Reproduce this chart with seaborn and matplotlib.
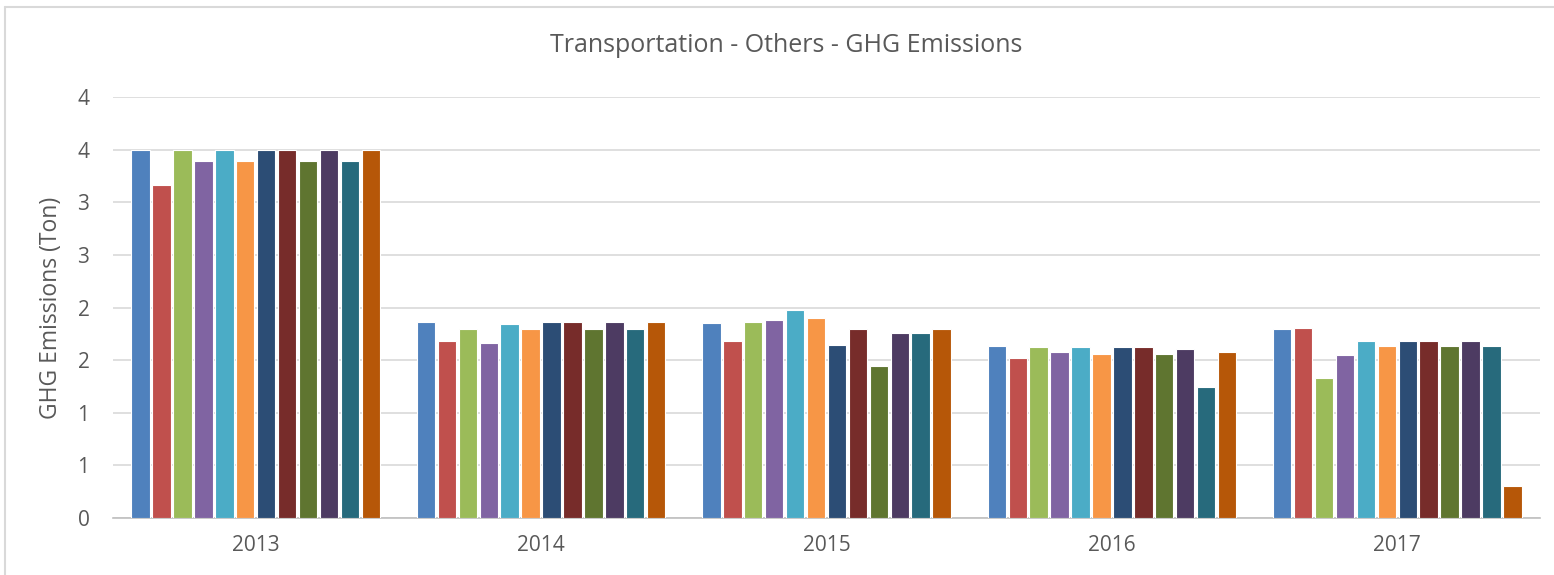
import matplotlib
matplotlib.use("Agg")
import matplotlib.pyplot as plt
from matplotlib.lines import Line2D
import seaborn as sns
import pandas as pd

# Emissions per year for each of the twelve vehicle series (tons)
years = ["2013", "2014", "2015", "2016", "2017"]
series_names = [f"Series {i}" for i in range(1, 13)]
values_2013 = [3.50, 3.16, 3.50, 3.39, 3.50, 3.39, 3.50, 3.50, 3.39, 3.50, 3.39, 3.50]
values_2014 = [1.865, 1.685, 1.80, 1.66, 1.84, 1.80, 1.865, 1.865, 1.80, 1.865, 1.80, 1.865]
values_2015 = [1.853, 1.685, 1.865, 1.878, 1.973, 1.90, 1.647, 1.80, 1.447, 1.755, 1.755, 1.80]
values_2016 = [1.634, 1.523, 1.62, 1.574, 1.62, 1.561, 1.62, 1.62, 1.561, 1.609, 1.245, 1.574]
values_2017 = [1.793, 1.805, 1.327, 1.549, 1.685, 1.634, 1.685, 1.685, 1.634, 1.685, 1.634, 0.307]

y_ticks = [0, 0.5, 1.0, 1.5, 2.0, 2.5, 3.0, 3.5, 4.0]
y_tick_labels = ["0", "1", "1", "2", "2", "3", "3", "4", "4"]

palette = ["#4F81BD", "#C0504D", "#9BBB59", "#8064A2", "#4BACC6", "#F79646",
           "#2C4D75", "#772C2A", "#5F7530", "#4D3B62", "#276A7C", "#B65708"]

rows = []
for year, vals in zip(years, [values_2013, values_2014, values_2015, values_2016, values_2017]):
    for name, v in zip(series_names, vals):
        rows.append({"Year": year, "Series": name, "Emissions": v})
df = pd.DataFrame(rows)

sns.set_theme(style="white")
plt.rcParams["font.family"] = ["Open Sans", "DejaVu Sans"]

text_color = "#595959"
grid_color = "#D9D9D9"

fig = plt.figure(figsize=(15.54, 5.75), dpi=100)
ax = fig.add_axes([113 / 1554, 1 - 518 / 575, (1540 - 113) / 1554, (518 - 97) / 575])

sns.barplot(data=df, x="Year", y="Emissions", hue="Series", order=years,
            hue_order=series_names, palette=palette, width=0.88, gap=0.12,
            edgecolor="white", linewidth=0.8, saturation=1, legend=False, ax=ax,
            zorder=3)

ax.set_ylim(0, 4.0)
ax.set_xlim(-0.5, len(years) - 0.5)
ax.set_yticks(y_ticks)
ax.set_yticklabels(y_tick_labels)
ax.yaxis.grid(True, color=grid_color, linewidth=1.2, zorder=0)
ax.set_axisbelow(True)
for side in ["top", "right", "left"]:
    ax.spines[side].set_visible(False)
ax.spines["bottom"].set_color("#BFBFBF")
ax.spines["bottom"].set_linewidth(1.2)
ax.tick_params(axis="both", length=0, colors=text_color, labelsize=15)
ax.tick_params(axis="y", pad=17)
ax.tick_params(axis="x", pad=12)
ax.set_xlabel("")
ax.set_ylabel("GHG Emissions (Ton)", color=text_color, fontsize=16.5, labelpad=10)

fig.text(0.506, 1 - 45 / 575, "Transportation - Others - GHG Emissions",
         ha="center", va="center", color=text_color, fontsize=18)

# Chart frame along the top and left edges
fig.add_artist(Line2D([5 / 1554, 1.0], [1 - 7 / 575, 1 - 7 / 575],
                      transform=fig.transFigure, color="#D9D9D9", linewidth=1.5))
fig.add_artist(Line2D([5 / 1554, 5 / 1554], [0, 1 - 7 / 575],
                      transform=fig.transFigure, color="#D9D9D9", linewidth=1.5))

fig.savefig("out.png", dpi=100, facecolor="white")
